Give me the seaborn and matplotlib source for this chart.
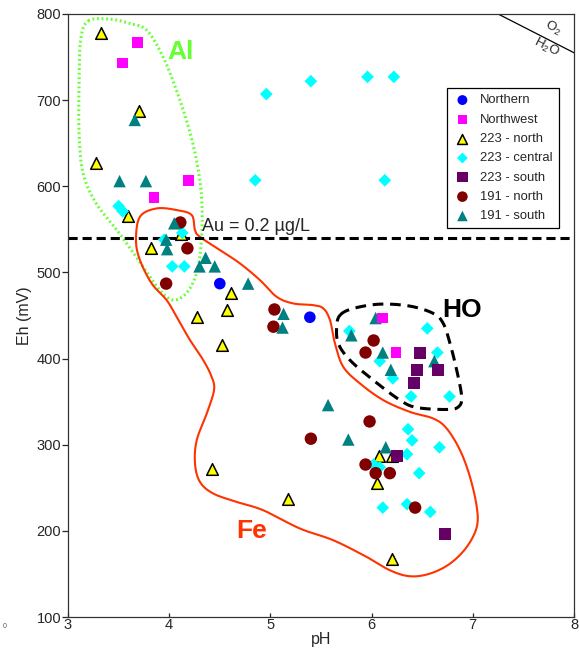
import numpy as np
import pandas as pd
import seaborn as sns
import matplotlib
matplotlib.use("Agg")
import matplotlib.pyplot as plt

# --- data ---
northern_ph = [4.50, 5.39]
northern_eh = [487, 448]
northwest_ph = [3.69, 3.54, 4.19, 3.85, 6.11, 6.24]
northwest_eh = [767, 743, 607, 587, 447, 407]
n223_ph = [3.33, 3.70, 3.28, 3.59, 3.82, 4.12, 4.61, 4.57, 4.27, 4.52, 4.42, 5.17, 6.07, 6.20, 6.05, 6.20]
n223_eh = [778, 687, 627, 566, 528, 545, 476, 456, 448, 416, 272, 237, 287, 287, 256, 167]
c223_ph = [4.96, 5.40, 5.96, 6.22, 4.85, 6.13, 3.50, 3.54, 4.13, 3.95, 4.03, 4.15, 5.78, 6.55, 6.65,
           6.08, 6.21, 6.39, 6.77, 6.36, 6.40, 6.67, 6.35, 6.02, 6.08, 6.47, 6.11, 6.35, 6.58]
c223_eh = [707, 722, 727, 727, 607, 607, 577, 571, 546, 538, 507, 507, 432, 435, 407,
           397, 377, 356, 356, 318, 305, 297, 289, 277, 274, 267, 227, 231, 222]
s223_ph = [6.48, 6.45, 6.66, 6.42, 6.25, 6.73]
s223_eh = [407, 387, 387, 372, 287, 196]
n191_ph = [4.11, 4.18, 3.97, 5.04, 5.03, 5.40, 6.02, 5.94, 5.98, 5.94, 6.04, 6.18, 6.43]
n191_eh = [558, 528, 487, 457, 437, 307, 421, 407, 327, 277, 267, 267, 227]
s191_ph = [3.66, 3.51, 3.77, 4.05, 3.97, 3.98, 4.36, 4.30, 4.45, 4.78, 5.13, 5.12, 6.04, 5.80,
           6.11, 6.19, 6.62, 5.57, 5.77, 6.14]
s191_eh = [677, 606, 606, 557, 538, 527, 517, 507, 507, 487, 452, 436, 447, 427,
           407, 387, 397, 346, 306, 297]

groups = ["Northern", "Northwest", "223 - north", "223 - central", "223 - south", "191 - north", "191 - south"]
group_ph = [northern_ph, northwest_ph, n223_ph, c223_ph, s223_ph, n191_ph, s191_ph]
group_eh = [northern_eh, northwest_eh, n223_eh, c223_eh, s223_eh, n191_eh, s191_eh]

au_limit = 540

# field outlines (pH, Eh)
al_ph = [3.20, 3.415, 3.61, 3.78, 3.94, 4.07, 4.19, 4.27, 4.32, 4.32, 4.27, 4.17, 4.04, 3.91,
         3.74, 3.51, 3.28, 3.15, 3.11, 3.11, 3.125]
al_eh = [792, 794, 789, 781, 750, 712, 669, 630, 588, 538, 499, 476, 468, 479,
         507, 545, 580, 615, 661, 720, 770]
fe_ph = [3.672, 3.711, 3.876, 4.074, 4.222, 4.255, 4.304, 4.502, 4.700, 4.897, 5.062, 5.226, 5.424,
         5.523, 5.589, 5.638, 5.720, 5.885, 6.116, 6.379, 6.610, 6.742, 6.874, 6.972, 7.039, 7.039,
         6.940, 6.775, 6.577, 6.379, 6.182, 5.952, 5.622, 5.292, 4.930, 4.667, 4.436, 4.304, 4.255,
         4.272, 4.371, 4.443, 4.420, 4.337, 4.206, 4.074, 3.975, 3.827, 3.711]
fe_eh = [537.5, 564.6, 574.3, 572.4, 566.6, 549.1, 541.3, 525.9, 510.4, 491.1, 471.7, 464.0, 462.0,
         458.2, 444.6, 417.5, 390.4, 371.1, 351.7, 338.1, 330.4, 318.8, 293.6, 262.6, 227.8, 204.5,
         181.3, 162.0, 150.4, 147.3, 154.2, 169.7, 189.1, 202.7, 223.9, 233.6, 243.3, 256.8, 278.2,
         305.2, 336.2, 363.3, 378.7, 398.1, 421.4, 448.4, 467.8, 487.2, 514.3]
ho_ph = [5.688, 5.819, 6.083, 6.379, 6.610, 6.708, 6.775, 6.841, 6.890, 6.857, 6.742, 6.446, 6.281,
         6.017, 5.787, 5.671, 5.655]
ho_eh = [450.4, 458.2, 463.2, 460.9, 452.4, 440.8, 417.5, 386.5, 355.5, 343.9, 340.9, 343.2, 351.7,
         374.9, 398.1, 417.5, 436.8]
water_ph = [7.25, 8.0]
water_eh = [800, 755]

palette = {"Northern": "#0000ff", "Northwest": "#ff00ff", "223 - north": "#ffff00",
           "223 - central": "#00ffff", "223 - south": "#660066", "191 - north": "#800000",
           "191 - south": "#008080"}
markers = {"Northern": "o", "Northwest": "s", "223 - north": "^", "223 - central": "D",
           "223 - south": "s", "191 - north": "o", "191 - south": "^"}
sizes = {"Northern": 70, "Northwest": 60, "223 - north": 70, "223 - central": 42,
         "223 - south": 75, "191 - north": 80, "191 - south": 80}
draw_order = ["223 - north", "223 - central", "191 - north", "191 - south", "223 - south", "Northwest", "Northern"]


def smooth_closed(xs, ys, n=24):
    # closed Catmull-Rom curve through the outline points
    P = np.column_stack([xs, ys]).astype(float)
    m = len(P)
    t = np.linspace(0, 1, n, endpoint=False)[:, None]
    segs = []
    for i in range(m):
        p0, p1, p2, p3 = P[i - 1], P[i], P[(i + 1) % m], P[(i + 2) % m]
        segs.append(0.5 * (2 * p1 + (-p0 + p2) * t + (2 * p0 - 5 * p1 + 4 * p2 - p3) * t ** 2
                           + (-p0 + 3 * p1 - 3 * p2 + p3) * t ** 3))
    out = np.vstack(segs + [segs[0][:1]])
    return out[:, 0], out[:, 1]


rows = []
for g, xs, ys in zip(groups, group_ph, group_eh):
    for x, y in zip(xs, ys):
        rows.append((g, x, y))
df = pd.DataFrame(rows, columns=["site", "pH", "Eh"])

sns.set_style("ticks")
plt.rcParams["font.family"] = ["Liberation Sans", "DejaVu Sans"]
plt.rcParams["mathtext.default"] = "regular"

fig = plt.figure(figsize=(5.79, 6.51), dpi=100)
ax = fig.add_axes([0.1174, 0.0522, 0.8740, 0.9263])

# outlines
x, y = smooth_closed(al_ph, al_eh)
ax.plot(x, y, color="#66ff33", lw=2.2, ls=(0, (0.6, 0.9)), zorder=1)
x, y = smooth_closed(fe_ph, fe_eh)
ax.plot(x, y, color="#ff3300", lw=1.5, zorder=1)
x, y = smooth_closed(ho_ph, ho_eh)
ax.plot(x, y, color="black", lw=2.2, ls=(0, (3.5, 2.2)), zorder=1)

ax.axhline(au_limit, color="black", lw=2.2, ls=(0, (3, 1.6)), zorder=1)
ax.plot(water_ph, water_eh, color="black", lw=0.9, zorder=1)

for g in draw_order:
    sub = df[df.site == g]
    ec = "black" if g == "223 - north" else "none"
    sns.scatterplot(data=sub, x="pH", y="Eh", color=palette[g], marker=markers[g], s=sizes[g],
                    edgecolor=ec, linewidth=1.1 if ec == "black" else 0, label=g, ax=ax, zorder=3)

handles, labels = ax.get_legend_handles_labels()
hmap = dict(zip(labels, handles))
leg = ax.legend([hmap[g] for g in groups], groups, loc="upper left", bbox_to_anchor=(0.7485, 0.8765),
                fontsize=9.4, frameon=True, fancybox=False, edgecolor="black", framealpha=1,
                labelspacing=0.55, handletextpad=0.6, borderpad=0.45, handlelength=1.5,
                borderaxespad=0, markerscale=0.85)
leg.get_frame().set_linewidth(0.9)

ax.text(4.11, 756, "Al", color="#66ff33", fontsize=19, fontweight="bold", ha="center", va="center")
ax.text(4.81, 200, "Fe", color="#ff3300", fontsize=19, fontweight="bold", ha="center", va="center")
ax.text(6.89, 456, "HO", color="black", fontsize=19, fontweight="bold", ha="center", va="center")
ax.text(4.32, 544, "Au = 0.2 µg/L", fontsize=13, ha="left", va="bottom")
ax.text(7.79, 784, "O$_2$", fontsize=9.5, rotation=-27, ha="center", va="center")
ax.text(7.73, 761, "H$_2$O", fontsize=9.5, rotation=-27, ha="center", va="center")
fig.text(0.004, 0.035, "0", fontsize=5, color="#555555")

ax.set_xlim(3, 8)
ax.set_ylim(100, 800)
ax.set_xticks(range(3, 9))
ax.set_yticks(range(100, 801, 100))
ax.set_xlabel("pH", fontsize=11.5, labelpad=0)
ax.set_ylabel("Eh (mV)", fontsize=11.5, labelpad=3)
ax.tick_params(axis="y", direction="out", length=4, width=0.9, labelsize=10.5, pad=1)
ax.tick_params(axis="x", direction="in", length=3, width=0.9, labelsize=10.5, pad=1)
for s in ax.spines.values():
    s.set_visible(True)
    s.set_linewidth(0.9)
    s.set_color("#333333")

fig.savefig("out.png", dpi=100)
